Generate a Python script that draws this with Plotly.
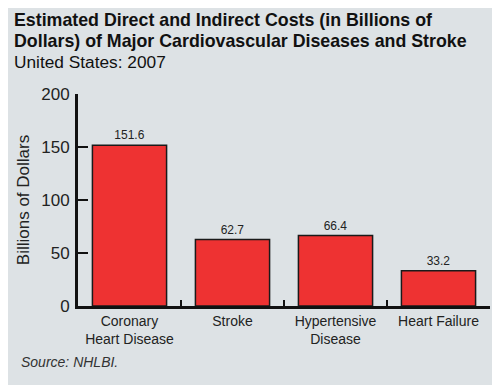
import plotly.graph_objects as go

categories = ["Coronary<br>Heart Disease", "Stroke", "Hypertensive<br>Disease", "Heart Failure"]
values = [151.6, 62.7, 66.4, 33.2]
value_labels = ["151.6", "62.7", "66.4", "33.2"]
y_ticks = [0, 50, 100, 150, 200]

FONT = "Liberation Sans, Arial, sans-serif"
BG = "#dde2e5"

fig = go.Figure()
fig.add_trace(go.Bar(
    x=categories, y=values,
    text=value_labels, textposition="outside", cliponaxis=False,
    textfont=dict(family=FONT, size=12, color="#222"),
    marker=dict(color="#ee3232", line=dict(color="#1a1a1a", width=1.5)),
    width=0.72,
))

# page is drawn with an 8px body offset
OFF = 8
W, H = 500 - OFF, 385 - OFF
L, R_EDGE, T, BOT = 78 - OFF, 490 - OFF, 94 - OFF, 306 - OFF
pw = R_EDGE - L
ph = BOT - T

def px(x):
    return (x - OFF - L) / pw

def py(y):
    return (BOT - (y - OFF)) / ph

fig.update_layout(
    width=W, height=H,
    margin=dict(l=L, r=W - R_EDGE, t=T, b=H - BOT, pad=0),
    paper_bgcolor=BG, plot_bgcolor=BG,
    showlegend=False,
    font=dict(family=FONT, color="#222"),
    xaxis=dict(
        range=[-0.5, 3.5], showline=True, linecolor="#111", linewidth=3,
        ticks="inside", tickson="boundaries", ticklen=6, tickwidth=2, tickcolor="#111",
        tickfont=dict(family=FONT, size=14, color="#222"), tickangle=0, automargin=False,
        showgrid=False, zeroline=False,
    ),
    yaxis=dict(
        range=[0, 200], tickvals=y_ticks, showline=True, linecolor="#111", linewidth=3,
        ticks="inside", ticklen=10, tickwidth=2, tickcolor="#111",
        tickfont=dict(family=FONT, size=17, color="#222"), automargin=False,
        showgrid=False, zeroline=False, ticklabelstandoff=2,
        title=dict(text="Billions of Dollars", font=dict(family=FONT, size=17, color="#222"), standoff=8),
    ),
    annotations=[
        dict(text="<b>Estimated Direct and Indirect Costs (in Billions of</b>", x=px(12), y=py(20),
             xref="paper", yref="paper", xanchor="left", yanchor="middle", showarrow=False,
             font=dict(family=FONT, size=17.8, color="#111")),
        dict(text="<b>Dollars) of Major Cardiovascular Diseases and Stroke</b>", x=px(12), y=py(41),
             xref="paper", yref="paper", xanchor="left", yanchor="middle", showarrow=False,
             font=dict(family=FONT, size=17.8, color="#111")),
        dict(text="United States: 2007", x=px(12), y=py(62),
             xref="paper", yref="paper", xanchor="left", yanchor="middle", showarrow=False,
             font=dict(family=FONT, size=17.3, color="#111")),
        dict(text="<i>Source: NHLBI.</i>", x=px(19), y=py(362),
             xref="paper", yref="paper", xanchor="left", yanchor="middle", showarrow=False,
             font=dict(family=FONT, size=14, color="#333")),
    ],
)

fig.write_html("out.html")
